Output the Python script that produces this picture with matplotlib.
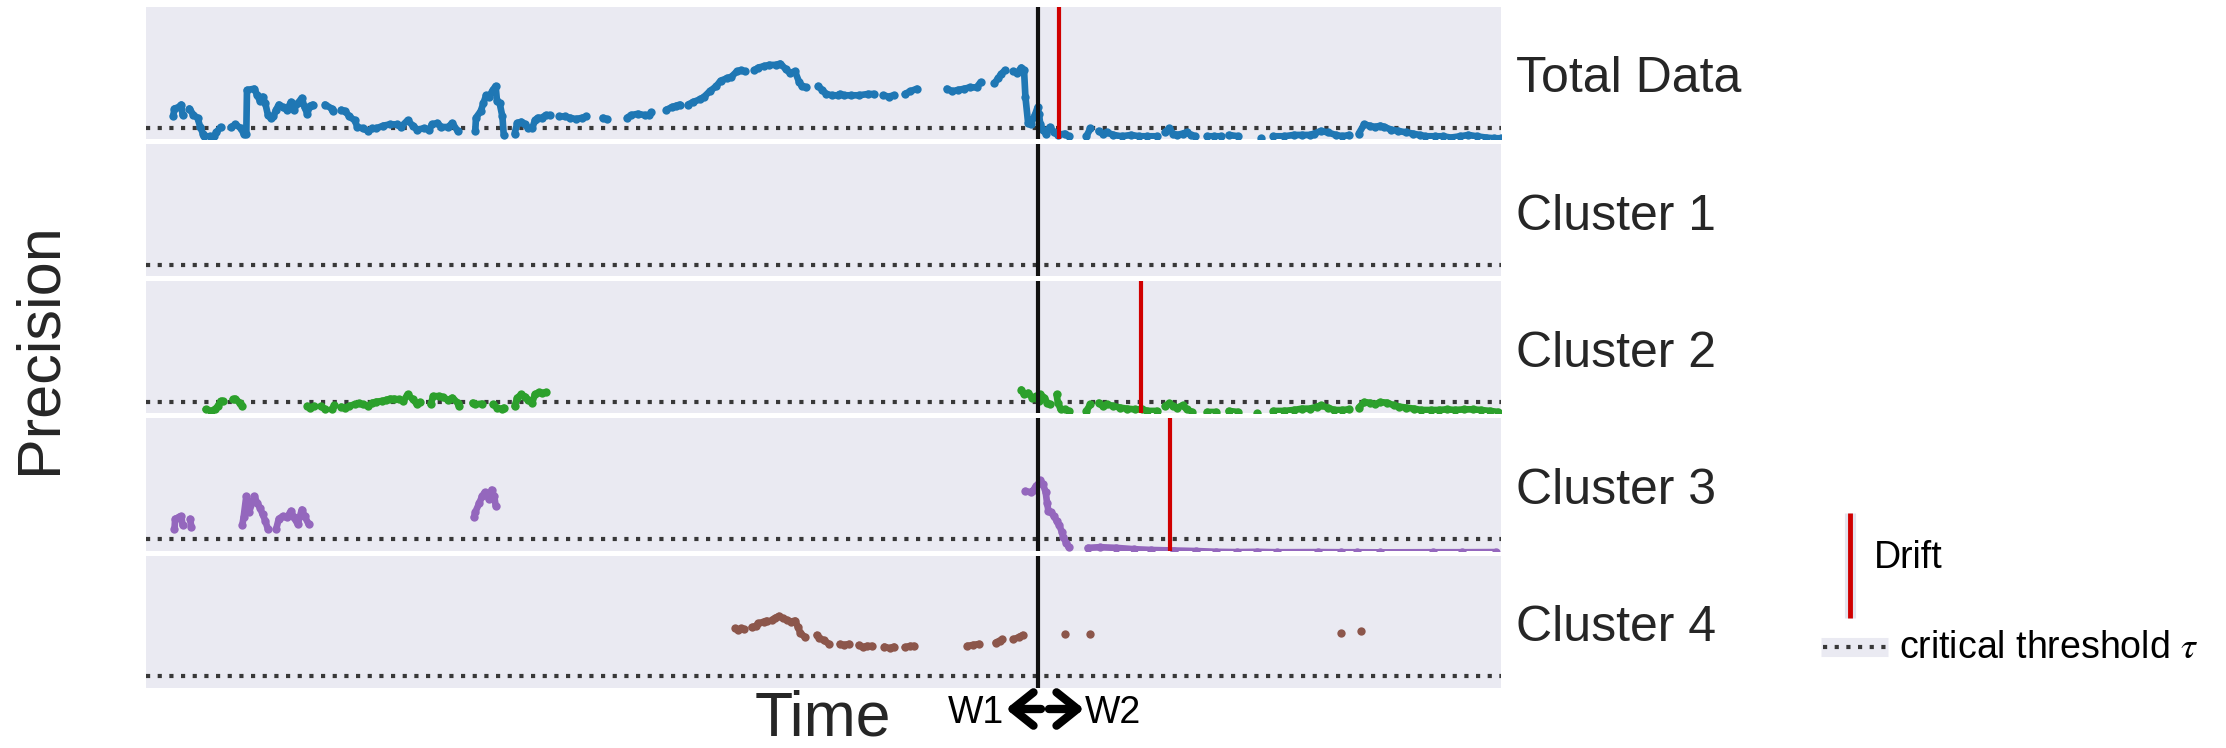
import numpy as np
import matplotlib
matplotlib.use("Agg")
import matplotlib.pyplot as plt
from matplotlib.lines import Line2D
from matplotlib.patches import FancyArrowPatch

plt.rcParams['font.family'] = ['Liberation Sans', 'DejaVu Sans']

# Precision over time (time steps 0..1000), None = gap in the stream
total_pts = [(20, .17), (21, .23), (24, .24), (26, .26), (27, .18), None,
             (32, .23), (35, .18), (38, .16), (40, .09), (42, .04), (43, .02), (47, .02), (50, .02), (52, .05), (55, .09), None,
             (63, .09), (66, .11), (70, .08), (72, .04), (74, .04), (74.5, .37), (80, .38), (82, .33), (84, .29), (86, .32),
             (88, .27), (90, .18), (92, .16), (94, .17), (96, .22), (98, .26), (101, .24), (104, .22), (107, .28), (109, .22),
             (112, .27), (115, .31), (117, .24), (119, .19), (121, .25), (123, .26), None,
             (132, .26), (137, .23), (138, .21), None,
             (144, .22), (147, .21), (150, .17), (154, .14), (156, .09), (160, .08), (164, .06), (167, .08), (170, .08),
             (175, .10), (180, .11), (185, .11), (188, .09), (193, .14), (197, .10), (200, .07), (205, .08), (209, .07),
             (211, .11), (215, .12), (218, .09), (223, .09), (226, .12), (230, .06), None,
             (243, .06), (243.5, .16), (247, .21), (249, .27), (251, .33), (253, .32), (256, .37), (258, .40), (259, .29),
             (261, .27), (263, .17), (264, .03), None,
             (272, .04), (274, .12), (277, .13), (280, .11), (282, .08), (285, .08), (287, .14), (289, .16), (292, .16),
             (295, .18), (298, .18), None,
             (305, .17), (309, .17), (313, .16), (317, .15), (322, .16), (325, .17), None,
             (337, .16), (340, .15), None,
             (355, .16), (358, .18), (363, .19), (368, .18), (371, .18), (373, .20), None,
             (384, .22), (388, .24), (391, .25), (394, .26), None,
             (400, .26), (404, .28), (409, .30), (412, .32), (416, .36), (421, .40), (424, .44), (429, .46), (432, .47),
             (436, .51), (439, .52), (442, .51), None,
             (449, .52), (452, .54), (456, .55), (460, .56), (465, .56), (468, .57), (472, .53), (475, .50), (479, .51),
             (482, .43), (484, .40), (487, .39), None,
             (496, .40), (499, .37), (502, .34), (506, .33), (511, .33), (512, .34), (515, .33), (520, .33), (526, .33),
             (533, .34), (537, .34), None,
             (544, .33), (548, .32), (552, .33), None,
             (560, .34), (564, .36), (569, .38), None,
             (591, .38), (595, .36), (599, .37), (604, .38), (608, .39), (613, .39), (616, .43), None,
             (626, .42), (629, .46), (631, .49), (634, .52), None,
             (640, .51), (643, .50), (646, .54), (648, .52), (649, .32), (651, .12), (653, .11), (656, .18), (658, .24),
             (659, .19), (660, .11), (662, .07), (664, .04), (667, .09), (670, .05), (673, .03), (678, .04), (681, .02), None,
             (694, .02), (697, .08), None,
             (703, .06), (706, .04), (709, .05), (714, .03), (720, .02), (727, .03), (733, .02), (739, .02), (746, .02), None,
             (752, .05), (755, .08), (758, .04), (761, .03), (765, .04), (768, .05), (771, .03), (774, .02), None,
             (783, .02), (788, .02), (793, .02), None,
             (799, .03), (806, .02), None,
             (823, .01), None,
             (832, .02), (840, .02), (847, .03), (853, .03), (859, .03), (862, .04), (867, .06), (872, .05), (878, .03),
             (883, .02), (888, .03), None,
             (895, .04), (899, .11), (903, .10), (907, .09), (911, .10), (914, .09), (919, .07), (924, .06), (930, .05),
             (935, .04), (940, .03), (944, .02), (951, .02), (957, .02), (963, .01), (970, .02), (976, .03), (982, .02),
             (989, .01), (995, .005), (1000, .005)]

cluster1_pts = []

cluster2_pts = [(44, .03), (48, .018), (51, .03), (53, .055), (55, .093), (56.5, .093), None,
                (64, .105), (66, .11), (69, .08), (71, .055), None,
                (119, .055), (121, .043), (124, .055), None,
                (129, .055), (132, .03), None,
                (137, .03), (139, .06), None,
                (144, .05), (147, .043), (150, .055), (154, .068), (157, .075), (160, .068), (164, .055), (167, .08),
                (170, .088), (174, .093), (177, .10), (180, .11), (183, .11), (187, .105), (190, .093), (193, .143),
                (197, .105), (200, .068), (202, .085), None,
                (210, .068), (212, .13), (216, .13), (219, .123), (223, .10), (226, .118), (230, .08), (231, .055), None,
                (241, .08), (243, .068), (248, .073), None,
                (256, .068), (259, .043), (263, .03), (264, .043), None,
                (272, .055), (274, .118), (277, .143), (280, .125), (282, .10), (285, .08), (287, .143), (290, .16),
                (292, .15), (295, .16), None,
                (646, .18), (648, .143), (651, .155), (654, .118), (657, .13), (659, .093), (660, .143), (663, .118),
                (665, .08), (667, .068), None,
                (672, .143), (673, .08), (675, .03), (678, .03), (681, .018), None,
                (694, .018), (697, .068), None,
                (703, .08), (706, .055), (709, .068), (714, .055), (719, .043), (724, .035), (730, .03), (735, .03),
                (739, .018), (746, .018), None,
                (752, .055), (755, .075), (758, .055), (761, .043), (765, .06), (768, .03), (772, .01), None,
                (783, .01), (790, .01), None,
                (799, .018), (806, .01), None,
                (820, .005), None,
                (832, .018), (840, .018), (847, .025), (853, .035), (859, .035), (864, .05), (867, .06), (872, .043),
                (877, .025), (883, .025), (888, .03), None,
                (895, .043), (899, .085), (903, .08), (907, .068), (911, .085), (916, .08), (921, .06), (925, .05),
                (930, .043), (936, .035), (941, .025), (948, .025), (954, .025), (960, .03), (966, .025), (973, .03),
                (979, .03), (985, .025), (992, .018), (998, .01)]

cluster3_pts = [(21, .16), (21.5, .24), (24, .25), (26, .26), (27, .19), None,
                (32.5, .24), (33.5, .175), None,
                (71, .19), (72, .25), (74, .41), (75, .36), (76, .29), (80, .41), (82, .36), (84, .325), (86, .275),
                (88, .225), (90, .16), None,
                (96, .16), (98, .24), (101, .26), (104, .25), (107, .30), (109, .25), (112, .20), (115, .31),
                (117, .26), (120, .20), None,
                (242, .25), (243, .29), (246, .36), (248, .41), (250, .44), (253, .39), (255, .46), (257, .41),
                (258, .34), None,
                (649, .45), (653, .44), (655, .46), (657, .49), (659, .51), (660, .53), (662, .50), (664, .44),
                (665, .36), (666, .30), (668, .29), (670, .26), (672, .225), (674, .19), (676, .14), (677, .10),
                (679, .06), (681, .025), None,
                (695, .02), (704, .025), (716, .02), (729, .01), (742, .004), (759, .0), (775, -.004), (790, -.01),
                (805, -.012), (820, -.01), (835, -.013), (865, -.012), (882, -.013), (894, -.013), (911, -.014),
                (950, -.013), (971, -.013), (996, -.012)]

cluster4_pts = [(435, .45), (437, .437), (439, .45), (441, .442), None,
                (447, .457), (450, .467), (452, .487), (456, .50), (458, .508), None,
                (462, .513), (464, .525), (467, .543), (470, .525), (473, .513), (476, .50), (479, .508), (481, .462),
                (483, .412), (486, .386), None,
                (495, .399), (497, .374), (500, .361), (504, .331), None,
                (512, .331), (515, .323), (519, .331), None,
                (526, .323), (529, .306), (532, .316), (536, .316), None,
                (545, .311), (549, .298), (552, .311), None,
                (560, .306), (564, .316), (567, .316), None,
                (606, .316), (610, .323), (615, .331), None,
                (627, .341), (630, .356), (632, .366), None,
                (640, .366), (644, .381), (647, .399), None,
                (678, .404), None, (697, .404), None, (882, .417), None, (897, .429)]

panel_names = ['Total Data', 'Cluster 1', 'Cluster 2', 'Cluster 3', 'Cluster 4']
panel_data = [total_pts, cluster1_pts, cluster2_pts, cluster3_pts, cluster4_pts]
panel_colors = ['#1f77b4', '#ff7f0e', '#2ca02c', '#9467bd', '#8c564b']
drift_time = [674, None, 734, 756, None]   # detected drift per panel
window_split = 658                          # W1 | W2 boundary
tau = 0.085                                 # critical threshold


def to_xy(pts):
    x = [np.nan if p is None else p[0] for p in pts]
    y = [np.nan if p is None else p[1] for p in pts]
    return x, y


fig = plt.figure(figsize=(22.26, 7.48), dpi=100)
axes = fig.subplots(5, 1, sharex=True)
fig.subplots_adjust(left=0.0656, right=0.6743, top=0.991, bottom=0.0806, hspace=0.038)

dots = (0, (1, 1.8))

for ax, name, pts, col, drift in zip(axes, panel_names, panel_data, panel_colors, drift_time):
    ax.set_facecolor('#eaeaf2')
    for s in ax.spines.values():
        s.set_visible(False)
    ax.set_xticks([])
    ax.set_yticks([])
    ax.set_xlim(0, 1000)
    ax.set_ylim(0, 1)
    ax.axhline(tau, color='#383838', lw=3, linestyle=dots, zorder=1)
    if pts:
        x, y = to_xy(pts)
        ax.plot(x, y, color=col, lw=4.8, marker='o', ms=6, mew=0, solid_capstyle='round', zorder=2)
    ax.axvline(window_split, color='#111111', lw=3, zorder=4)
    if drift is not None:
        ax.axvline(drift, color='#d00000', lw=3, zorder=5)
    ax.text(1.011, 0.45, name, transform=ax.transAxes, fontsize=36, va='center', ha='left', color='#262626')

fig.text(0.018, 0.535, 'Precision', rotation=90, fontsize=44, ha='center', va='center', color='#262626')
fig.text(0.3697, 0.0, 'Time', fontsize=45, ha='center', va='bottom', color='#262626')

# W1 <-> W2 marker under the window split
fig.text(1004 / 2226, 1 - 723 / 748, 'W1', ha='right', va='baseline', fontsize=27)
fig.text(1085 / 2226, 1 - 723 / 748, 'W2', ha='left', va='baseline', fontsize=27)
ya = 1 - 709 / 748
for a, b in [(1041, 1006), (1049, 1084)]:
    fig.add_artist(FancyArrowPatch((a / 2226, ya), (b / 2226, ya), transform=fig.transFigure,
                                   arrowstyle='->,head_length=0.75,head_width=0.6', mutation_scale=20,
                                   lw=6, color='black', shrinkA=0, shrinkB=0))

# legend drawn by hand
xd = 1850 / 2226
fig.add_artist(Line2D([xd, xd], [0.174, 0.314], transform=fig.transFigure, color='#e4e4ee', lw=8,
                      solid_capstyle='butt'))
fig.add_artist(Line2D([xd, xd], [0.174, 0.314], transform=fig.transFigure, color='#d00000', lw=3.5,
                      solid_capstyle='butt'))
fig.text(1874 / 2226, 1 - 568 / 748, 'Drift', fontsize=27, va='baseline')
fig.add_artist(Line2D([1821 / 2226, 1888 / 2226], [0.135, 0.135], transform=fig.transFigure,
                      color='#eaeaf2', lw=13.7, solid_capstyle='butt'))
fig.add_artist(Line2D([1823 / 2226, 1888 / 2226], [0.135, 0.135], transform=fig.transFigure,
                      color='#383838', lw=3, linestyle=dots))
fig.text(1899 / 2226, 1 - 658 / 748, 'critical threshold $\\tau$', fontsize=27, va='baseline',
         math_fontfamily='stix')

fig.savefig('out.png', dpi=100)
